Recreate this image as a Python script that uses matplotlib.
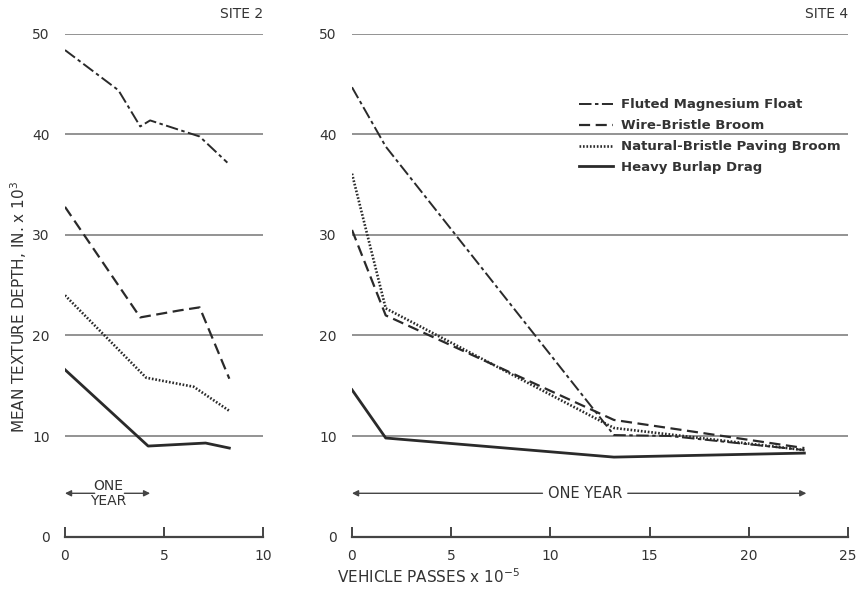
import matplotlib
matplotlib.use('Agg')
import matplotlib.pyplot as plt

# Mean texture depth (in. x 10^3) against vehicle passes (x 10^-5)
site2_fluted_x = [0, 2.7, 3.8, 4.3, 6.8, 8.2]
site2_fluted_y = [48.4, 44.4, 40.8, 41.4, 39.8, 37.2]
site2_wire_x = [0, 3.8, 5.8, 6.8, 8.3]
site2_wire_y = [32.8, 21.8, 22.5, 22.8, 15.7]
site2_natural_x = [0, 4.1, 6.5, 8.3]
site2_natural_y = [24.0, 15.8, 14.9, 12.5]
site2_burlap_x = [0, 4.2, 7.1, 8.3]
site2_burlap_y = [16.6, 9.0, 9.3, 8.8]

site4_fluted_x = [0, 1.7, 13.2, 16.0, 22.8]
site4_fluted_y = [44.7, 38.8, 10.1, 10.0, 8.6]
site4_wire_x = [0, 1.7, 13.2, 22.8]
site4_wire_y = [30.5, 22.0, 11.6, 8.8]
site4_natural_x = [0, 1.7, 13.2, 22.8]
site4_natural_y = [36.1, 22.7, 10.8, 8.6]
site4_burlap_x = [0, 1.7, 13.2, 22.8]
site4_burlap_y = [14.6, 9.8, 7.9, 8.3]

labels = ['Fluted Magnesium Float', 'Wire-Bristle Broom',
          'Natural-Bristle Paving Broom', 'Heavy Burlap Drag']

plt.rcParams['lines.scale_dashes'] = False
ink = '#2a2a2a'
styles = [
    dict(color=ink, lw=1.4, ls=(0, (9, 2.5, 2.5, 2.5))),
    dict(color=ink, lw=1.6, ls=(0, (8, 4))),
    dict(color=ink, lw=1.9, ls=(0, (1.2, 1.3))),
    dict(color=ink, lw=2.0, ls='-'),
]
txt = dict(color='#333333', fontsize=10)


def setup_axis(ax, xmax, xticks, title):
    ax.set_xlim(0, xmax)
    ax.set_ylim(0, 50)
    for side in ['top', 'right', 'left']:
        ax.spines[side].set_visible(False)
    ax.spines['bottom'].set_color('#444444')
    ax.spines['bottom'].set_linewidth(1.6)
    ax.set_yticks([0, 10, 20, 30, 40, 50])
    ax.set_xticks(xticks)
    ax.tick_params(axis='y', length=0, pad=11, labelsize=10, labelcolor='#333333')
    ax.tick_params(axis='x', direction='in', length=7, width=1.4, color='#444444',
                   pad=9, labelsize=10, labelcolor='#333333')
    for y in [10, 20, 30, 40, 50]:
        ax.axhline(y, color='#8a8a8a', lw=1.3, zorder=0)
    ax.text(1.0, 1.04, title, transform=ax.transAxes, ha='right', va='center', **txt)


fig = plt.figure(figsize=(8.64, 5.91), dpi=100)
ax1 = fig.add_axes([0.0752, 0.0922, 0.2292, 0.8503])
ax2 = fig.add_axes([0.4074, 0.0922, 0.5741, 0.8503])

setup_axis(ax1, 10, [0, 5, 10], 'SITE 2')
setup_axis(ax2, 25, [0, 5, 10, 15, 20, 25], 'SITE 4')

site2 = [(site2_fluted_x, site2_fluted_y), (site2_wire_x, site2_wire_y),
         (site2_natural_x, site2_natural_y), (site2_burlap_x, site2_burlap_y)]
site4 = [(site4_fluted_x, site4_fluted_y), (site4_wire_x, site4_wire_y),
         (site4_natural_x, site4_natural_y), (site4_burlap_x, site4_burlap_y)]

for (x, y), st in zip(site2, styles):
    ax1.plot(x, y, **st)
for (x, y), st, lab in zip(site4, styles, labels):
    ax2.plot(x, y, label=lab, **st)

leg = ax2.legend(loc='upper left', bbox_to_anchor=(0.458, 0.872), frameon=False,
                 borderaxespad=0, borderpad=0, handlelength=2.6, handletextpad=0.6,
                 labelspacing=0.6, prop={'size': 9.5, 'weight': 'bold'})
for t in leg.get_texts():
    t.set_color('#333333')

# one-year markers
arrow = dict(arrowstyle='-|>', color='#444444', lw=1.0, mutation_scale=9,
             shrinkA=0, shrinkB=0)
ax1.annotate('', xy=(0, 4.3), xytext=(1.5, 4.3), arrowprops=arrow)
ax1.annotate('', xy=(4.3, 4.3), xytext=(3.0, 4.3), arrowprops=arrow)
ax1.text(2.2, 4.3, 'ONE\nYEAR', ha='center', va='center', linespacing=1.05, **txt)

ax2.annotate('', xy=(0, 4.3), xytext=(9.6, 4.3), arrowprops=arrow)
ax2.annotate('', xy=(22.9, 4.3), xytext=(13.9, 4.3), arrowprops=arrow)
ax2.text(11.75, 4.3, 'ONE YEAR', ha='center', va='center', color='#333333', fontsize=10.5)

fig.text(0.39, 0.024, 'VEHICLE PASSES x 10$^{-5}$', ha='left', va='center',
         color='#333333', fontsize=11)
fig.text(0.022, 0.48, 'MEAN TEXTURE DEPTH, IN. x 10$^{3}$', rotation=90,
         ha='center', va='center', color='#333333', fontsize=11)

fig.savefig('out.png', dpi=100)
